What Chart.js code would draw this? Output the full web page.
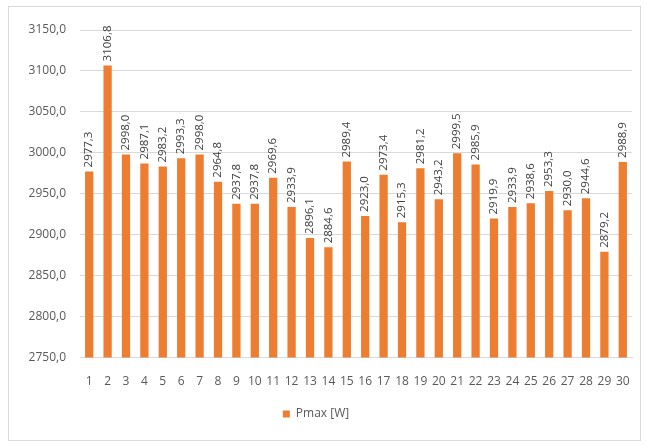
<!DOCTYPE html>
<html>
<head>
<meta charset="utf-8">
<script src="https://cdn.jsdelivr.net/npm/chart.js@4"></script>
<style>
    body { margin: 0; background: #fff; }
    #frame { position: absolute; left: 8px; top: 6px; width: 631px; height: 433px; border: 1px solid #d9d9d9; }
    #wrap { position: absolute; left: 0; top: 0; width: 646px; height: 447px; }
</style>
</head>
<body>
<div id="frame"></div>
<div id="wrap"><canvas id="pmaxChart" width="646" height="447"></canvas></div>
<script>
const days = ['1','2','3','4','5','6','7','8','9','10','11','12','13','14','15','16','17','18','19','20','21','22','23','24','25','26','27','28','29','30'];
const pmax = [2977.3, 3106.8, 2998.0, 2987.1, 2983.2, 2993.3, 2998.0, 2964.8, 2937.8, 2937.8,
              2969.6, 2933.9, 2896.1, 2884.6, 2989.4, 2923.0, 2973.4, 2915.3, 2981.2, 2943.2,
              2999.5, 2985.9, 2919.9, 2933.9, 2938.6, 2953.3, 2930.0, 2944.6, 2879.2, 2988.9];
const yMin = 2750;
const yMax = 3150;
const yStep = 50;

const fmt = v => v.toFixed(1).replace('.', ',');
const fontFamily = "'Open Sans', sans-serif";

// rotated value labels above each bar
const barLabels = {
    id: 'barLabels',
    afterDatasetsDraw(chart) {
        const ctx = chart.ctx;
        const meta = chart.getDatasetMeta(0);
        ctx.save();
        ctx.font = '11.5px ' + fontFamily;
        ctx.fillStyle = '#404040';
        ctx.textAlign = 'left';
        ctx.textBaseline = 'middle';
        meta.data.forEach((bar, i) => {
            ctx.save();
            ctx.translate(bar.x, bar.y - 4);
            ctx.rotate(-Math.PI / 2);
            ctx.fillText(fmt(pmax[i]), 0, 0);
            ctx.restore();
        });
        ctx.restore();
    }
};

new Chart(document.getElementById('pmaxChart').getContext('2d'), {
    type: 'bar',
    data: {
        labels: days,
        datasets: [{
            label: 'Pmax [W]',
            data: pmax,
            backgroundColor: '#ED7D31',
            barPercentage: 0.45,
            categoryPercentage: 1.0
        }]
    },
    options: {
        responsive: false,
        animation: false,
        layout: { padding: { top: 30, right: 14, bottom: 17, left: 0 } },
        scales: {
            y: {
                min: yMin,
                max: yMax,
                afterFit: scale => { scale.width = 80; },
                ticks: {
                    stepSize: yStep,
                    padding: 14,
                    color: '#595959',
                    font: { family: fontFamily, size: 12 },
                    callback: v => fmt(v)
                },
                grid: { color: '#d9d9d9', drawTicks: false },
                border: { display: false }
            },
            x: {
                ticks: {
                    autoSkip: false,
                    maxRotation: 0,
                    padding: 9,
                    color: '#595959',
                    font: { family: fontFamily, size: 12 }
                },
                grid: { display: false },
                border: { color: '#d9d9d9' }
            }
        },
        plugins: {
            legend: {
                position: 'bottom',
                labels: {
                    boxWidth: 7,
                    boxHeight: 7,
                    padding: 10,
                    color: '#595959',
                    font: { family: fontFamily, size: 12 }
                }
            },
            tooltip: { enabled: false }
        }
    },
    plugins: [barLabels]
});
</script>
</body>
</html>
